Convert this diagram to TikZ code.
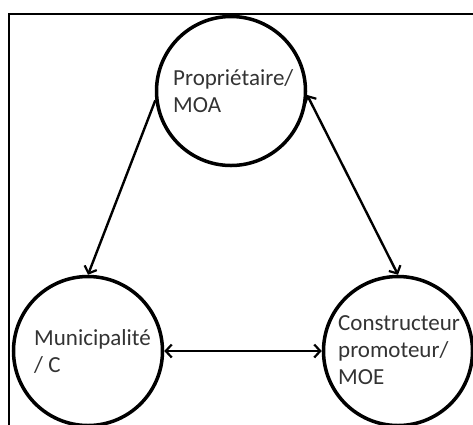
\documentclass[tikz,border=0pt]{standalone}
\usepackage{fontspec}
\setmainfont{Carlito}
\usetikzlibrary{arrows.meta}
\begin{document}
\begin{tikzpicture}[x=1pt,y=-1pt,
  actor/.style={circle,draw=black,line width=3.5pt,minimum size=149pt,inner sep=0pt},
  caption/.style={anchor=base west,inner sep=0pt,text=black!80,align=left,
    font=\fontsize{23}{27}\selectfont},
  link/.style={line width=2.4pt,{Straight Barb[length=6pt,width=13pt,line width=2.2pt]}-{Straight Barb[length=6pt,width=13pt,line width=2.2pt]}},
  oneway/.style={line width=2.4pt,-{Straight Barb[length=6pt,width=13pt,line width=2.2pt]}}]
\useasboundingbox (0,0) rectangle (473,424);
% frame (left and top sides)
\draw[line width=2.8pt] (9,430) -- (9,14) -- (480,14);
% the three actors
\node[actor] (moa) at (231,91) {};
\node[actor] (mun) at (88,351) {};
\node[actor] (moe) at (398,351) {};
% captions, placed by the baseline of their last line
\node[caption] (tmoa) at (173,112) {Propriétaire/\\MOA};
\node[caption] (tmun) at (34,372) {Municipalité\\/ C};
\node[caption] (tmoe) at (338,384) {Constructeur\\promoteur/\\MOE};
% relations
\draw[oneway] (moa.187) -- (mun.90);
\draw[link] (moa.-3) -- (moe.90);
\draw[link] (mun.0) -- (moe.180);
\end{tikzpicture}
\end{document}
